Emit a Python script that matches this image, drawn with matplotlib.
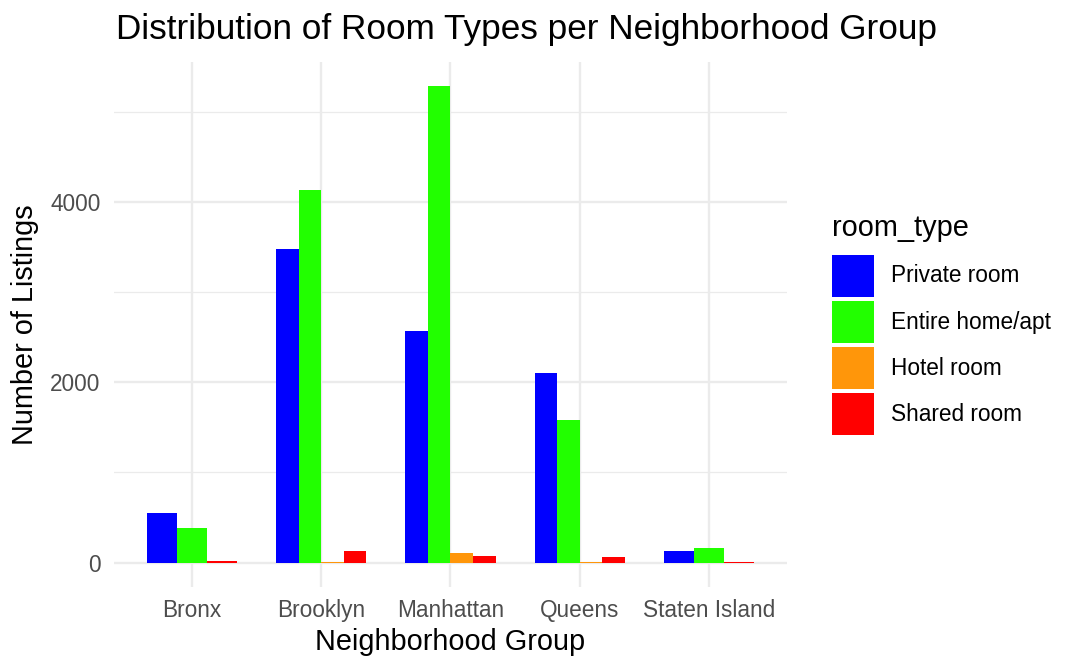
import numpy as np
import matplotlib
matplotlib.use("Agg")
from matplotlib import pyplot as plt
from matplotlib.patches import Patch
from matplotlib.ticker import MultipleLocator

plt.rcParams['font.family'] = ['Liberation Sans', 'DejaVu Sans']

groups = ["Bronx", "Brooklyn", "Manhattan", "Queens", "Staten Island"]
room_types = ["Private room", "Entire home/apt", "Hotel room", "Shared room"]
colors = ["#0000FF", "#22FF00", "#FF960A", "#FF0000"]

# listings per group, nan = no listings of that type
private_room = [547, 3473, 2571, 2099, 130]
entire_home = [388, 4133, 5286, 1585, 160]
hotel_room = [np.nan, 4, 104, 6, np.nan]
shared_room = [19, 130, 78, 66, 4]

counts = np.array([private_room, entire_home, hotel_room, shared_room], dtype=float)

fig = plt.figure(figsize=(10.86, 6.71), dpi=100)
ax = fig.add_axes([0.1053, 0.1258, 0.6190, 0.7820])

# dodge like ggplot: bars split the 0.7 slot among the types present
total_w = 0.7
for g in range(len(groups)):
    present = [t for t in range(len(room_types)) if not np.isnan(counts[t, g])]
    w = total_w / len(present)
    for i, t in enumerate(present):
        x = g - total_w / 2 + (i + 0.5) * w
        ax.bar(x, counts[t, g], width=w, color=colors[t], linewidth=0, zorder=3)

ymax = np.nanmax(counts)
ax.set_ylim(-0.05 * ymax, 1.05 * ymax)
ax.set_xlim(-0.6, len(groups) - 0.4)

ax.set_xticks(range(len(groups)))
ax.set_xticklabels(groups)
ax.yaxis.set_major_locator(MultipleLocator(2000))
ax.yaxis.set_minor_locator(MultipleLocator(1000))

ax.grid(which="major", color="#EBEBEB", linewidth=1.7, zorder=0)
ax.grid(which="minor", axis="y", color="#EBEBEB", linewidth=0.9, zorder=0)
for s in ax.spines.values():
    s.set_visible(False)
ax.tick_params(which="both", length=0)
ax.tick_params(axis="x", labelsize=16.3, labelcolor="#4D4D4D", pad=9)
ax.tick_params(axis="y", labelsize=16.3, labelcolor="#4D4D4D", pad=10)

ax.set_xlabel("Neighborhood Group", fontsize=20.8, labelpad=4)
ax.set_ylabel("Number of Listings", fontsize=20.8, labelpad=8)

fig.text(116 / 1086, 1 - 39.3 / 671, "Distribution of Room Types per Neighborhood Group",
         fontsize=25.3, va="baseline", ha="left")

# handleheight 2.48 gives ~42px square keys
handles = [Patch(facecolor=c, edgecolor="none") for c in colors]
leg = fig.legend(handles, room_types, loc="upper left",
                 bbox_to_anchor=(832 / 1086, 1 - 214 / 671),
                 frameon=False, fontsize=16.3, title="room_type",
                 title_fontproperties={"size": 20.8},
                 handlelength=1.86, handleheight=2.48, labelspacing=0.18,
                 handletextpad=0.75, borderpad=0, borderaxespad=0,
                 alignment="left")
leg._legend_box.sep = 9

fig.savefig("out.png", dpi=100)
